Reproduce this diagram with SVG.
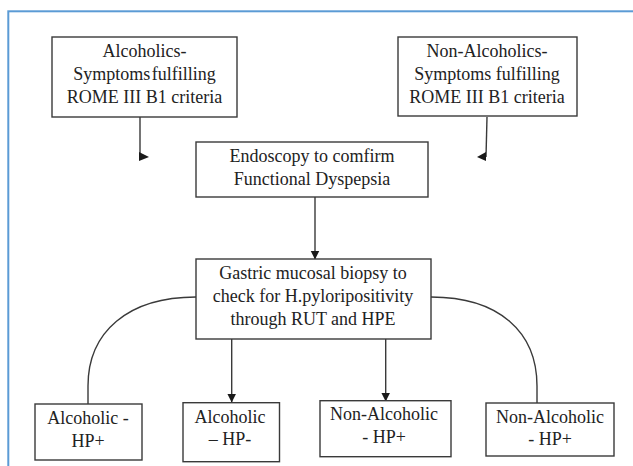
<svg xmlns="http://www.w3.org/2000/svg" width="633" height="466" viewBox="0 0 633 466">
<defs>
<style>
.box{fill:#fff;stroke:#3a3a3a;stroke-width:1.4}
.t{font-family:"Liberation Serif","Times New Roman",serif;font-size:18px;fill:#222;text-anchor:middle}
.ln{fill:none;stroke:#3a3a3a;stroke-width:1.4}
.ah{fill:#1a1a1a}
</style>
<marker id="arr" markerWidth="9" markerHeight="10" refX="8.5" refY="4.5" orient="auto" markerUnits="userSpaceOnUse">
<path d="M0,0 L9,4.5 L0,9 Z" fill="#1a1a1a"/>
</marker>
</defs>
<rect x="0" y="0" width="633" height="466" fill="#fff"/>
<rect x="8.3" y="11.3" width="700" height="500" fill="none" stroke="#5b9bd5" stroke-width="2"/>

<g id="connectors">
<path class="ln" d="M140,117 L140,157"/>
<polygon class="ah" points="139,152 149,157 139,161"/>
<path class="ln" d="M487,117 L486,157"/>
<polygon class="ah" points="486,152 477,157 486,161"/>
<path class="ln" d="M315,197 L315,259" marker-end="url(#arr)"/>
<path class="ln" d="M231.7,339 L231.7,402" marker-end="url(#arr)"/>
<path class="ln" d="M385.7,339 L385.7,401" marker-end="url(#arr)"/>
<path class="ln" d="M196,297 C128,297 88,332 88,386 L88,404"/>
<path class="ln" d="M431,297 C499,297 537,332 537,386 L537,403"/>
</g>

<g id="n1">
<rect class="box" x="52" y="37" width="185" height="80"/>
<text class="t" x="144.5" y="57">Alcoholics-</text>
<text class="t" x="144.5" y="80" word-spacing="-3">Symptoms fulfilling</text>
<text class="t" x="144.5" y="103">ROME III B1 criteria</text>
</g>
<g id="n2">
<rect class="box" x="398" y="37" width="179" height="79"/>
<text class="t" x="487" y="57">Non-Alcoholics-</text>
<text class="t" x="487" y="80">Symptoms fulfilling</text>
<text class="t" x="487" y="103">ROME III B1 criteria</text>
</g>
<g id="n3">
<rect class="box" x="196" y="142" width="232" height="55"/>
<text class="t" x="312" y="162">Endoscopy to comfirm</text>
<text class="t" x="312" y="185">Functional Dyspepsia</text>
</g>
<g id="n4">
<rect class="box" x="196" y="259" width="235" height="80"/>
<text class="t" x="313" y="279">Gastric mucosal biopsy to</text>
<text class="t" x="313" y="302">check for H.pyloripositivity</text>
<text class="t" x="313" y="325">through RUT and HPE</text>
</g>
<g id="n5">
<rect class="box" x="35" y="404" width="107" height="56"/>
<text class="t" x="88" y="424">Alcoholic -</text>
<text class="t" x="88" y="447">HP+</text>
</g>
<g id="n6">
<rect class="box" x="183" y="402.7" width="96.5" height="59"/>
<text class="t" x="230" y="423">Alcoholic</text>
<text class="t" x="230" y="445">– HP-</text>
</g>
<g id="n7">
<rect class="box" x="320" y="400.7" width="131" height="56"/>
<text class="t" x="384" y="420">Non-Alcoholic</text>
<text class="t" x="384" y="443">- HP+</text>
</g>
<g id="n8">
<rect class="box" x="486" y="403" width="128" height="53"/>
<text class="t" x="550" y="423">Non-Alcoholic</text>
<text class="t" x="550" y="445">- HP+</text>
</g>
</svg>
